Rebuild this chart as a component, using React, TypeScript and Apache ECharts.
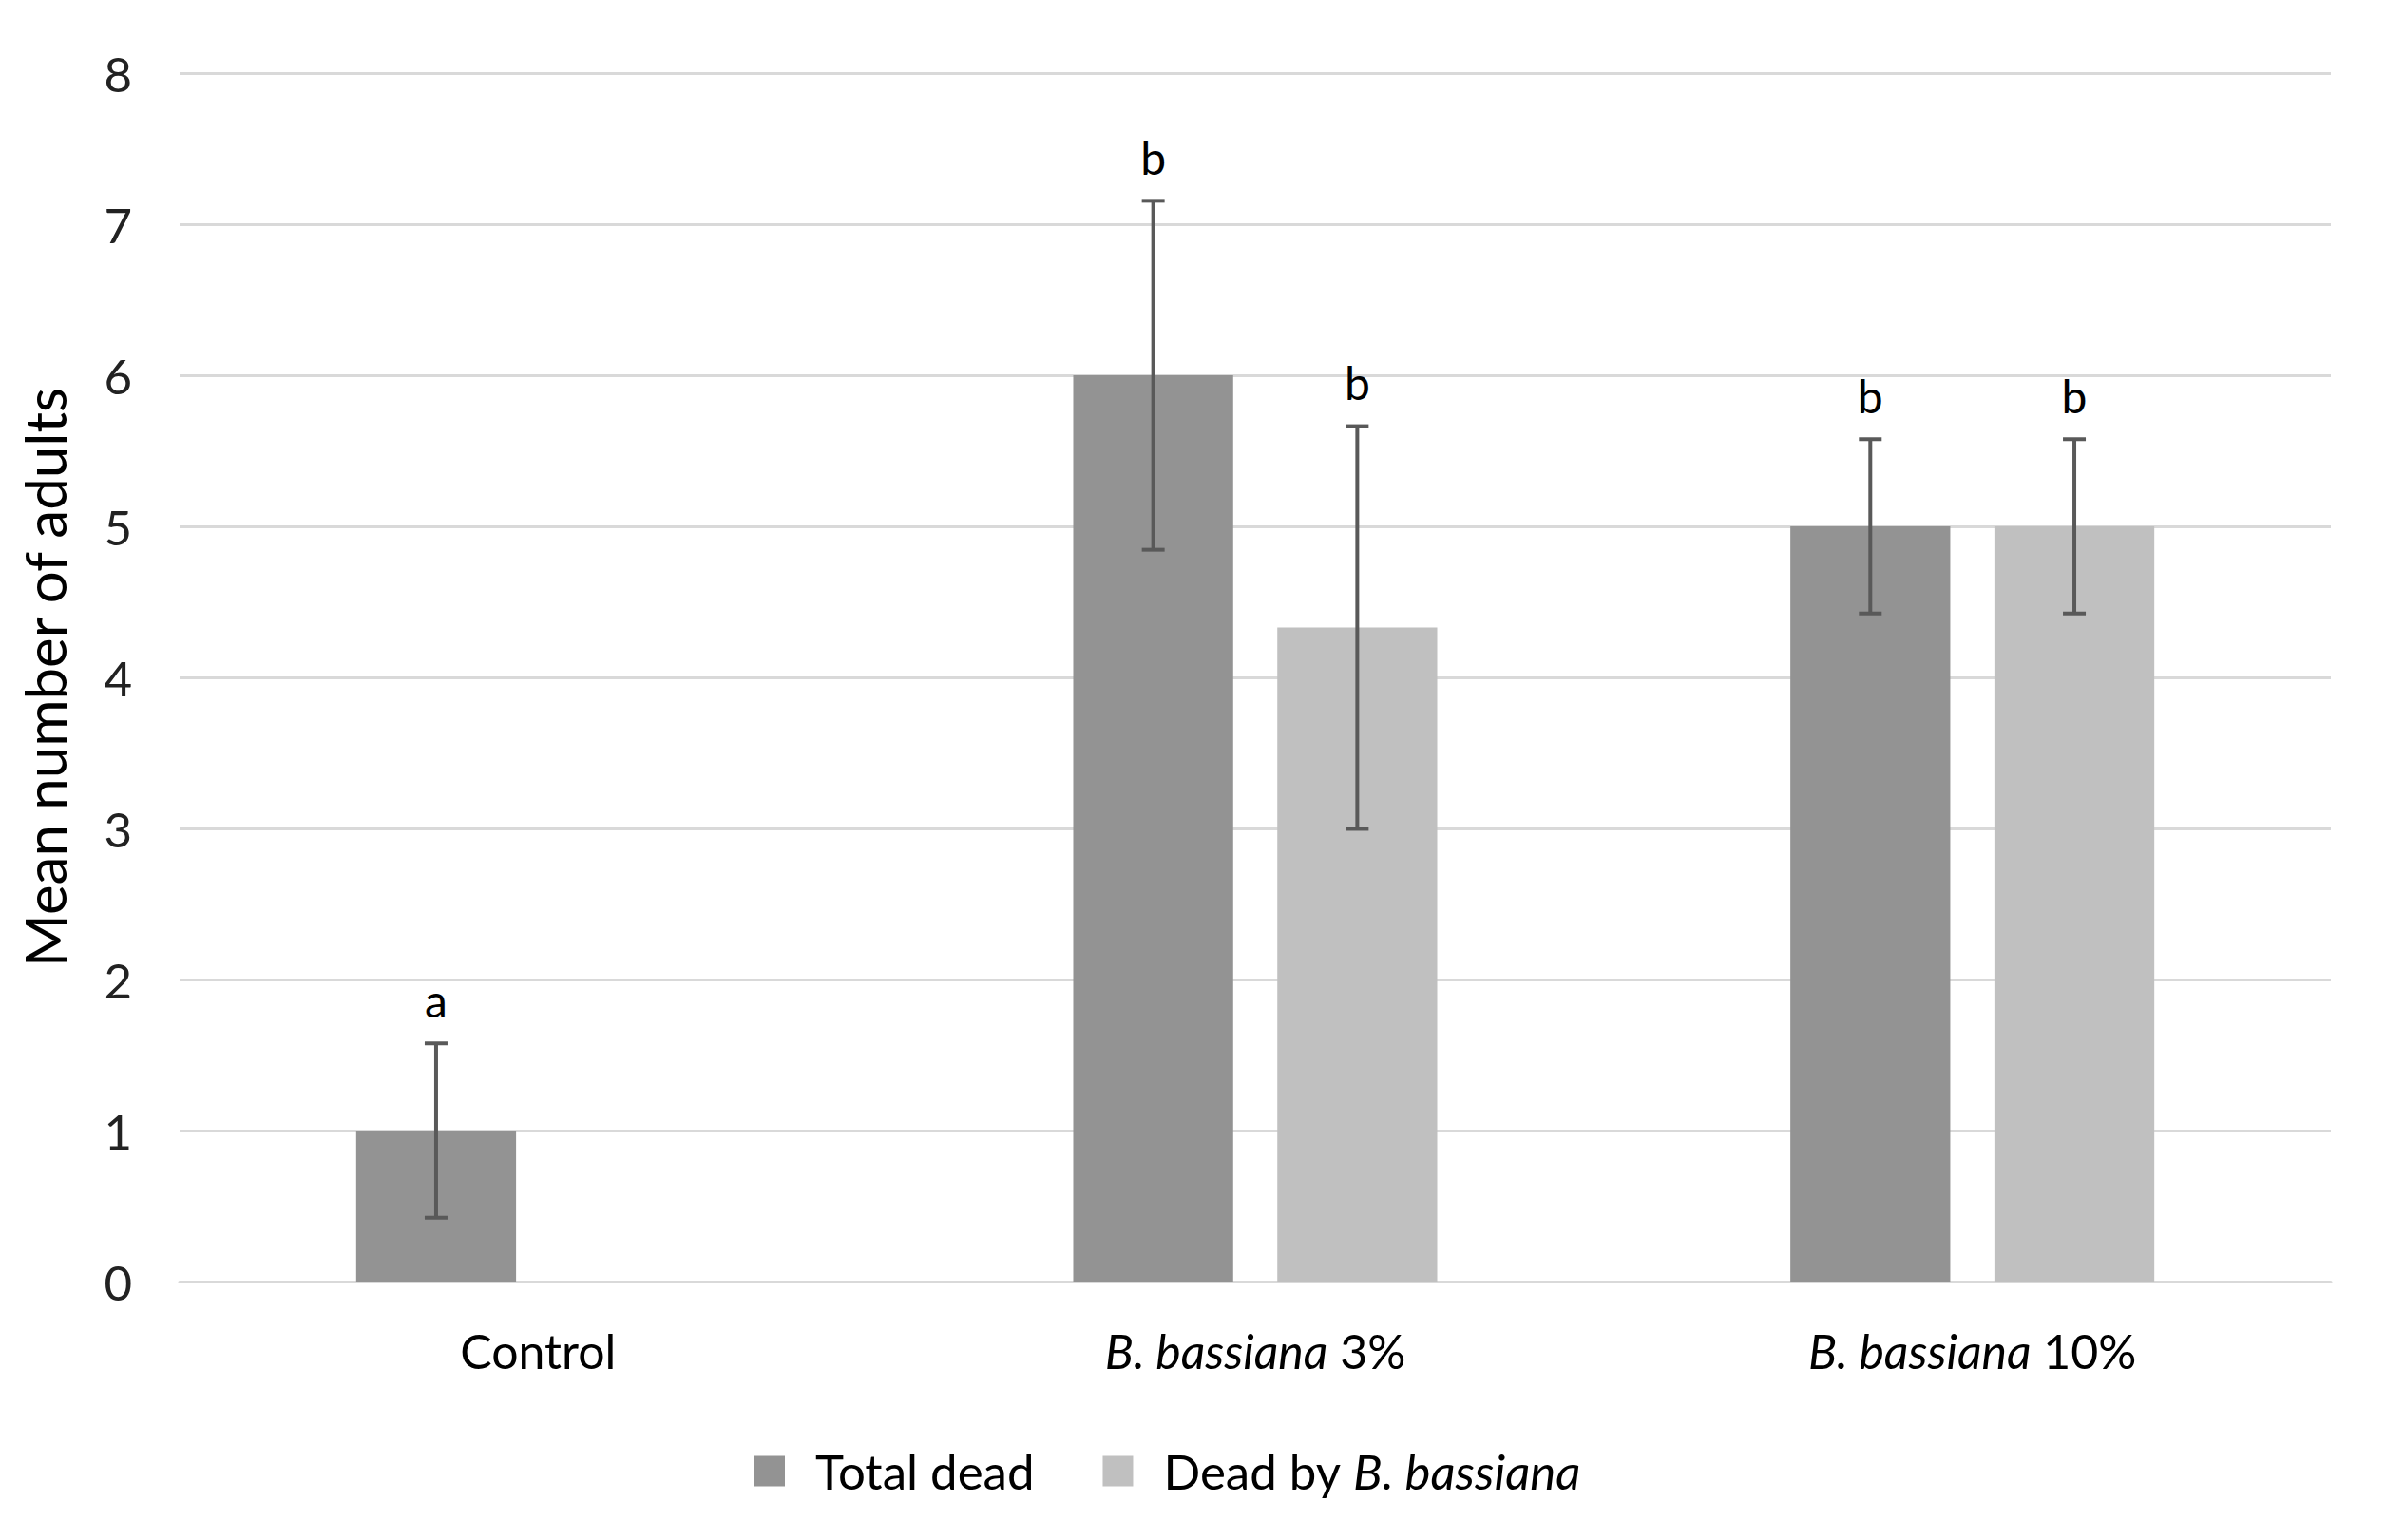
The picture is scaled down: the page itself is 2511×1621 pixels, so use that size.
import React, { useEffect, useRef } from "react";
import * as echarts from "echarts";

const categories = ["Control", "B. bassiana 3%", "B. bassiana 10%"];
const seriesNames = ["Total dead", "Dead by B. bassiana"];
const totalDead = [1, 6, 5];
const deadByBb = [0, 4.33, 5];
const totalDeadErr = [0.577, 1.155, 0.577];
const deadByBbErr = [null, 1.333, 0.577];
const totalDeadLetters = ["a", "b", "b"];
const deadByBbLetters = ["", "b", "b"];
const yTicks = { min: 0, max: 8, interval: 1 };

const FONT = "Lato";
const BAR_W = 0.223;
const BAR_GAP = 0.276;

function errSeries(name: string, values: number[], errs: (number | null)[], letters: string[], side: number) {
  const data = values
    .map((v, i) => (errs[i] == null ? null : [i, v, errs[i] as number, i]))
    .filter((d) => d !== null);
  return {
    type: "custom",
    name,
    z: 10,
    silent: true,
    data,
    encode: { x: 0, y: 1 },
    renderItem: (params: any, api: any) => {
      const cat = api.value(0);
      const v = api.value(1);
      const e = api.value(2);
      const idx = api.value(3);
      const band = api.size([1, 0])[0];
      const w = band * BAR_W;
      const off = ((w + w * BAR_GAP) / 2) * side;
      const c = api.coord([cat, v]);
      const x = c[0] + off;
      const yTop = api.coord([cat, v + e])[1];
      const yBot = api.coord([cat, v - e])[1];
      const cap = 12;
      const st = { stroke: "#595959", lineWidth: 4 };
      const children: any[] = [
        { type: "line", shape: { x1: x, y1: yTop, x2: x, y2: yBot }, style: st },
        { type: "line", shape: { x1: x - cap, y1: yTop, x2: x + cap, y2: yTop }, style: st },
        { type: "line", shape: { x1: x - cap, y1: yBot, x2: x + cap, y2: yBot }, style: st },
      ];
      const letter = letters[idx];
      if (letter) {
        children.push({
          type: "text",
          style: {
            text: letter,
            x,
            y: yTop - 22,
            align: "center",
            verticalAlign: "bottom",
            textAlign: "center",
            textVerticalAlign: "bottom",
            fontSize: 48,
            fontFamily: FONT,
            fill: "#000",
          },
        });
      }
      return { type: "group", children };
    },
  };
}

export default function App() {
  const ref = useRef<HTMLDivElement>(null);
  useEffect(() => {
    document.body.style.margin = "0";
    const chart = echarts.init(ref.current!, null, { renderer: "svg" });
    const rich = { i: { fontStyle: "italic", fontFamily: FONT, fontSize: 51, color: "#000" } };
    const fmt = (s: string) => s.replace("B. bassiana", "{i|B. bassiana}");
    chart.setOption({
      animation: false,
      backgroundColor: "#fff",
      grid: { left: 189, right: 58, top: 77, bottom: 272, containLabel: false },
      legend: {
        data: seriesNames,
        left: 789,
        top: 1518,
        icon: "rect",
        itemWidth: 32,
        itemHeight: 32,
        itemGap: 72,
        formatter: fmt,
        textStyle: { fontFamily: FONT, fontSize: 51, color: "#000", padding: [0, 0, 0, 27], rich },
      },
      xAxis: {
        type: "category",
        data: categories,
        axisTick: { show: false },
        axisLine: { lineStyle: { color: "#d9d9d9", width: 3 } },
        axisLabel: { margin: 48, fontFamily: FONT, fontSize: 50, color: "#000", formatter: fmt, rich: { i: { ...rich.i, fontSize: 50 } } },
      },
      yAxis: {
        type: "value",
        min: yTicks.min,
        max: yTicks.max,
        interval: yTicks.interval,
        name: "Mean number of adults",
        nameLocation: "middle",
        nameGap: 112,
        nameTextStyle: { fontFamily: FONT, fontSize: 60, color: "#000" },
        axisLine: { show: false },
        axisTick: { show: false },
        axisLabel: { margin: 50, fontFamily: FONT, fontSize: 51, color: "#222" },
        splitLine: { lineStyle: { color: "#d9d9d9", width: 3 } },
      },
      series: [
        {
          type: "bar",
          name: seriesNames[0],
          data: totalDead,
          barWidth: BAR_W * 100 + "%",
          barGap: BAR_GAP * 100 + "%",
          itemStyle: { color: "#939393" },
        },
        {
          type: "bar",
          name: seriesNames[1],
          data: deadByBb,
          barWidth: BAR_W * 100 + "%",
          barGap: BAR_GAP * 100 + "%",
          itemStyle: { color: "#c0c0c0" },
        },
        errSeries("err1", totalDead, totalDeadErr, totalDeadLetters, -1),
        errSeries("err2", deadByBb, deadByBbErr, deadByBbLetters, 1),
      ],
    });
    return () => chart.dispose();
  }, []);
  return <div ref={ref} style={{ width: 2511, height: 1621 }} />;
}
